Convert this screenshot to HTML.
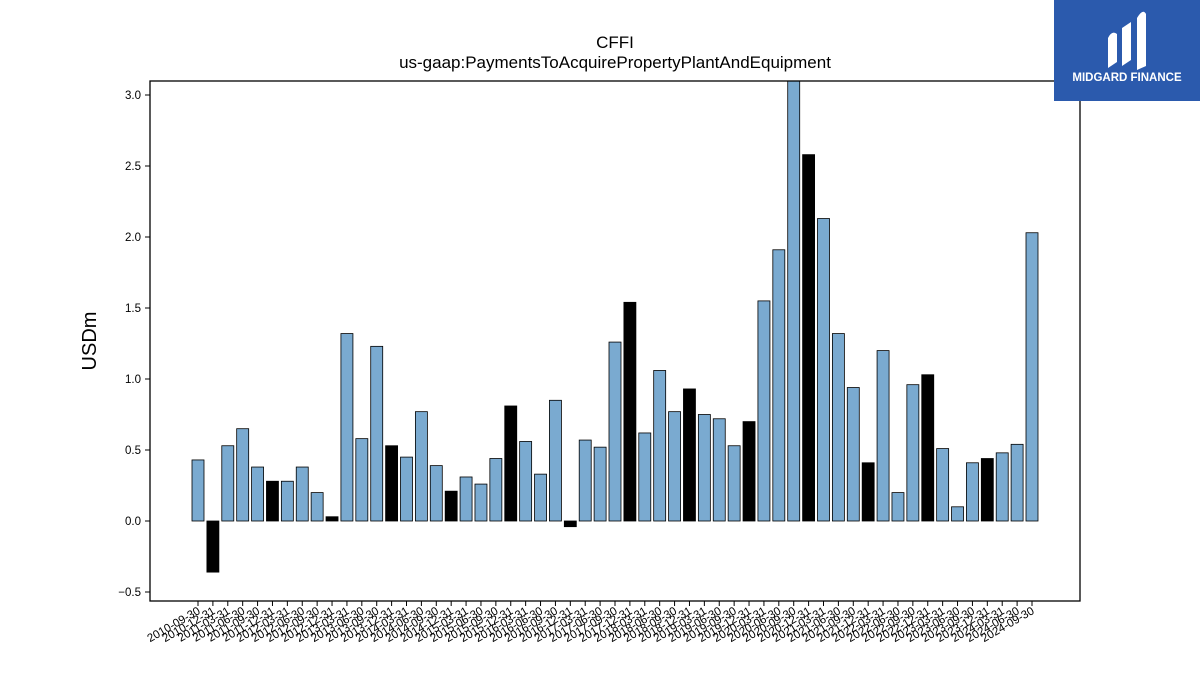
<!DOCTYPE html>
<html><head><meta charset="utf-8"><style>
body{margin:0;background:#fff;font-family:"Liberation Sans","DejaVu Sans",sans-serif}
</style></head><body>
<svg width="1200" height="675" viewBox="0 0 1200 675" xmlns="http://www.w3.org/2000/svg">
<text x="615" y="48" text-anchor="middle" font-size="17">CFFI</text>
<text x="615" y="68" text-anchor="middle" font-size="17">us-gaap:PaymentsToAcquirePropertyPlantAndEquipment</text>
<text transform="translate(96,341) rotate(-90)" text-anchor="middle" font-size="20">USDm</text>
<g id="bars"></g>
<g id="yticks"></g>
<g id="xticks"></g>
<rect x="150" y="81" width="930" height="520" fill="none" stroke="#000" stroke-width="1.3"/>
<g>
<rect x="1054" y="0" width="146" height="101" fill="#2b5aad"/>
<path d="M1108 68 L1108 38 Q1112 30 1117 34 L1117 62 Z M1122 66 L1122 28 L1131 22 L1131 60 Z M1137 70 L1137 18 Q1143 8 1146 14 L1146 66 Z" fill="#fff"/>
<text x="1127" y="81" text-anchor="middle" font-size="11.5" font-weight="bold" fill="#fff">MIDGARD FINANCE</text>
</g>
</svg>
<script>
const categories=[];
(function(){const q=["03-31","06-30","09-30","12-31"];for(let y=2010;y<=2024;y++)for(const d of q){const s=y+"-"+d;if(s>="2010-09-30"&&s<="2024-09-30")categories.push(s);}})();
const values=[0.43,-0.36,0.53,0.65,0.38,0.28,0.28,0.38,0.20,0.03,1.32,0.58,1.23,0.53,0.45,0.77,0.39,0.21,0.31,0.26,0.44,0.81,0.56,0.33,0.85,-0.04,0.57,0.52,1.26,1.54,0.62,1.06,0.77,0.93,0.75,0.72,0.53,0.70,1.55,1.91,3.15,2.58,2.13,1.32,0.94,0.41,1.20,0.20,0.96,1.03,0.51,0.10,0.41,0.44,0.48,0.54,2.03];
const yTicks=[-0.5,0.0,0.5,1.0,1.5,2.0,2.5,3.0];
const ns="http://www.w3.org/2000/svg";
const y0=521,pxPerUnit=142,yTop=81,yBot=601;
function yScale(v){return y0-v*pxPerUnit;}
function xScale(i){return 198+i*(1032-198)/(categories.length-1);}
function mk(t,a){const e=document.createElementNS(ns,t);for(const k in a)e.setAttribute(k,a[k]);return e;}
const bars=document.getElementById('bars');
values.forEach((v,i)=>{
 const top=Math.max(yTop,yScale(Math.max(v,0))),bot=Math.min(yBot,yScale(Math.min(v,0)));
 const black=categories[i].endsWith("12-31");
 const r=mk('rect',{x:xScale(i)-6,y:top,width:12,height:Math.max(0,bot-top),fill:black?'#000':'#7aaad0',stroke:'#000','stroke-width':0.8});
 
 
 bars.appendChild(r);
});
const yt=document.getElementById('yticks');
yTicks.forEach(t=>{
 const y=yScale(t);
 const l=mk('line',{x1:145,x2:150,y1:y,y2:y,stroke:'#000'});
 
 
 yt.appendChild(l);
 const tx=mk('text',{x:141,y:y+4,'text-anchor':'end','font-size':11.5});
 
 
 tx.textContent=(t<0?'\u2212'+(-t).toFixed(1):t.toFixed(1));
 yt.appendChild(tx);
});
const xt=document.getElementById('xticks');
categories.forEach((c,i)=>{
 const x=xScale(i);
 const l=mk('line',{x1:x,x2:x,y1:601,y2:606,stroke:'#000'});
 
 
 xt.appendChild(l);
 const tx=mk('text',{transform:`translate(${x+3},${613}) rotate(-30)`,'text-anchor':'end','font-size':11.5});
 
 
 tx.textContent=c;
 xt.appendChild(tx);
});
</script>
</body></html>
